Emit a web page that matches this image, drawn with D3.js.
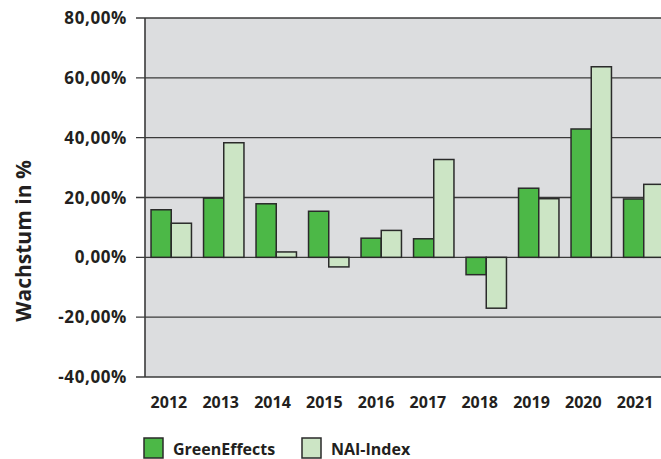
<!DOCTYPE html>
<html>
<head>
<meta charset="utf-8">
<script src="https://cdn.jsdelivr.net/npm/d3@7"></script>
<style>
  body { margin: 0; background: #fff; }
  svg { display: block; font-family: "Open Sans", sans-serif; font-weight: bold; }
</style>
</head>
<body>
<div id="chart"></div>
<script>
const years = ["2012", "2013", "2014", "2015", "2016", "2017", "2018", "2019", "2020", "2021"];
const series = ["GreenEffects", "NAI-Index"];
const greenEffects = [15.9, 19.8, 17.9, 15.4, 6.4, 6.2, -5.8, 23.1, 42.9, 19.5];
const naiIndex = [11.4, 38.3, 1.8, -3.2, 9.0, 32.7, -17.0, 19.6, 63.7, 24.4];
const yTicks = [-40, -20, 0, 20, 40, 60, 80];
const colors = ["#4cb847", "#cce5c5"];

const width = 661, height = 459;
const plotLeft = 145, plotRight = 670, plotTop = 18, plotBottom = 377;

const svg = d3.select("#chart").append("svg")
    .attr("width", width)
    .attr("height", height);

let x = d3.scaleBand().domain(years).range([plotLeft, plotRight]).padding(0);
let xLabels = d3.scaleBand().domain(years).range([143, 661]).padding(0);
let xInner = d3.scaleBand().domain(series)
    .range([x.bandwidth() * 0.115, x.bandwidth() * 0.885]);
let y = d3.scaleLinear().domain([-40, 80]).range([plotBottom, plotTop]);

// plot background
svg.append("rect")
    .attr("x", plotLeft)
    .attr("y", plotTop)
    .attr("width", plotRight - plotLeft)
    .attr("height", plotBottom - plotTop)
    .attr("fill", "#dcdddf");

// horizontal grid lines with the tick stubs
svg.append("g")
    .selectAll("line")
    .data(yTicks)
    .join("line")
    .attr("x1", 136)
    .attr("x2", plotRight)
    .attr("y1", d => y(d))
    .attr("y2", d => y(d))
    .attr("stroke", "#3a3a3a")
    .attr("stroke-width", 1.4);

// y tick labels (German decimal comma, plain hyphen for minus)
svg.append("g")
    .selectAll("text")
    .data(yTicks)
    .join("text")
    .attr("x", 127)
    .attr("y", d => y(d))
    .attr("dy", "0.36em")
    .attr("text-anchor", "end")
    .attr("font-size", 17)
    .attr("letter-spacing", 0.6)
    .attr("fill", "#231f20")
    .text(d => d.toFixed(2).replace(".", ",") + "%");

// bars
let groups = svg.append("g")
    .selectAll("g")
    .data(years)
    .join("g")
    .attr("transform", d => `translate(${x(d)},0)`);

groups.selectAll("rect")
    .data((d, i) => [greenEffects[i], naiIndex[i]].map((v, j) => ({ key: series[j], value: v })))
    .join("rect")
    .attr("x", d => xInner(d.key))
    .attr("width", xInner.bandwidth())
    .attr("y", d => y(Math.max(0, d.value)))
    .attr("height", d => Math.abs(y(d.value) - y(0)))
    .attr("fill", (d, j) => colors[j])
    .attr("stroke", "#2a2a2a")
    .attr("stroke-width", 1.5);

// left axis line
svg.append("line")
    .attr("x1", plotLeft)
    .attr("x2", plotLeft)
    .attr("y1", plotTop)
    .attr("y2", plotBottom)
    .attr("stroke", "#3a3a3a")
    .attr("stroke-width", 1.6);

// x labels
svg.append("g")
    .attr("transform", `translate(0,${plotBottom})`)
    .call(d3.axisBottom(xLabels).tickSize(0).tickPadding(20))
    .call(g => g.select(".domain").remove())
    .call(g => g.selectAll("text")
        .attr("font-size", 16)
        .attr("font-family", "Open Sans")
        .attr("font-weight", "bold")
        .attr("fill", "#231f20"));

// y title
svg.append("text")
    .attr("transform", "translate(31,241) rotate(-90)")
    .attr("text-anchor", "middle")
    .attr("font-size", 21)
    .attr("fill", "#231f20")
    .text("Wachstum in %");

// legend
let legend = svg.append("g")
    .selectAll("g")
    .data(series)
    .join("g")
    .attr("transform", (d, i) => `translate(${[144, 302][i]},438)`);

legend.append("rect")
    .attr("width", 19)
    .attr("height", 20)
    .attr("fill", (d, i) => colors[i])
    .attr("stroke", "#2a2a2a")
    .attr("stroke-width", 1.5);

legend.append("text")
    .attr("x", 29)
    .attr("y", 17)
    .attr("font-size", 16)
    .attr("fill", "#231f20")
    .text(d => d);
</script>
</body>
</html>
